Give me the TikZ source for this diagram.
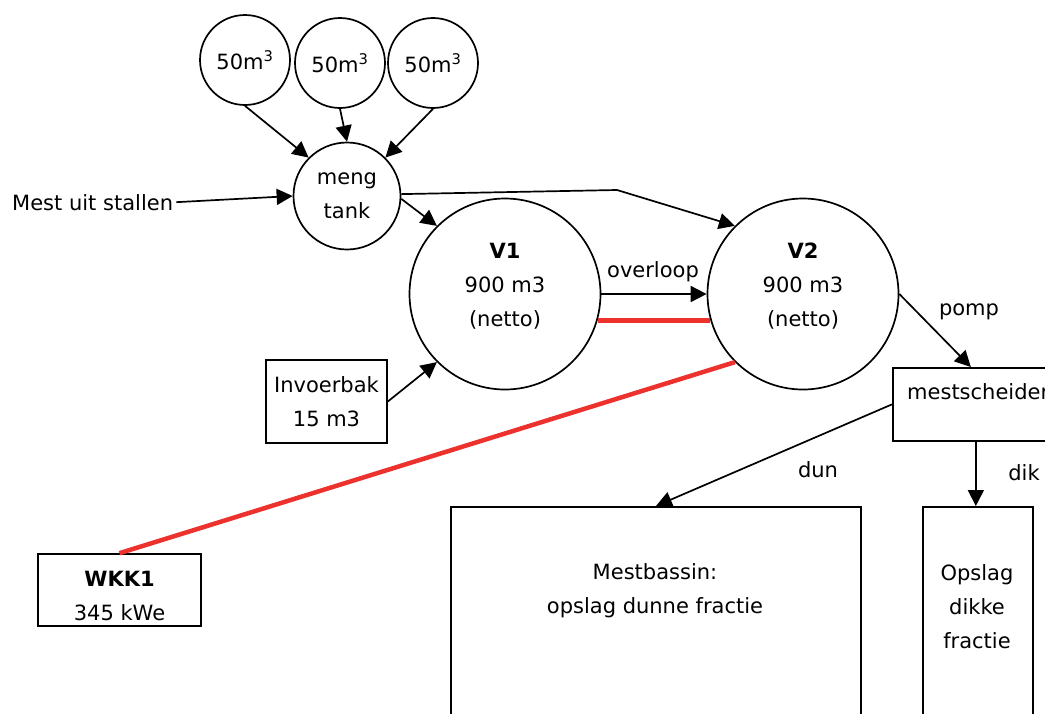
\documentclass[tikz,border=0pt]{standalone}
\usepackage{fontspec}
\setmainfont{DejaVu Sans}
\usepackage{tikz}
\usetikzlibrary{arrows.meta, calc, positioning}
\definecolor{gasred}{RGB}{237,50,46}
\tikzset{
    tankNode/.style={circle, draw, line width=1.7pt, inner sep=0pt, align=center},
    boxNode/.style={rectangle, draw, line width=1.7pt, inner sep=0pt, align=center},
    txtNode/.style={inner sep=0pt, align=center},
    flowEdge/.style={->, >={Triangle[length=16pt, width=16pt]}, line width=1.7pt},
    gasLine/.style={draw=gasred, line width=4.5pt},
}
\newcommand{\drawFlow}[3][]{
    \draw[flowEdge, #1] (#2) -- (#3);
}
\newcommand{\drawGas}[2]{
    \draw[gasLine] (#1) -- (#2);
}

\begin{document}
\begin{tikzpicture}[x=1pt, y=-1pt, font=\fontsize{21pt}{34pt}\selectfont]

    \useasboundingbox (0,0) rectangle (1045,713);
    \clip (0,0) rectangle (1045,713);

    % opslag en mengtank
    \node[tankNode, minimum size=90pt] (T1) at (245,60) {50m\textsuperscript{3}};
    \node[tankNode, minimum size=90pt] (T2) at (340,63) {50m\textsuperscript{3}};
    \node[tankNode, minimum size=90pt] (T3) at (433,63) {50m\textsuperscript{3}};
    \node[tankNode, minimum size=107pt] (meng) at (347,196) {meng\\tank};
    \node[txtNode, anchor=base west, inner xsep=3pt] (stal) at (9,210) {Mest uit stallen};

    % vergisters
    \node[tankNode, minimum size=191pt] (V1) at (505,294) {};
    \node[txtNode] (V1txt) at (505,286) {\textbf{V1}\\900 m3\\(netto)};
    \node[tankNode, minimum size=191pt] (V2) at (803,294) {};
    \node[txtNode] (V2txt) at (803,286) {\textbf{V2}\\900 m3\\(netto)};
    \coordinate (bend) at (617,190);

    \node[boxNode, minimum width=121pt, minimum height=83pt] (invoer) at (326.5,401.5) {Invoerbak\\15 m3};
    \node[boxNode, minimum width=163pt, minimum height=72pt] (wkk) at (119.5,590) {};
    \node[txtNode] (wkkTxt) at (119.5,595.5) {\textbf{WKK1}\\345 kWe};

    % scheiding en opslag
    \node[boxNode, minimum width=166pt, minimum height=73pt, anchor=north west] (sep) at (892,367) {};
    \node[txtNode, anchor=base west] (sepTxt) at (907,399) {mestscheider};
    \node[boxNode, minimum width=410pt, minimum height=260pt, anchor=north] (bassin) at (656,506) {};
    \node[txtNode] (bassinTxt) at (655,591) {Mestbassin:\\opslag dunne fractie};
    \node[boxNode, minimum width=110pt, minimum height=260pt, anchor=north] (dikOpslag) at (978,506) {};
    \node[txtNode] (dikTxt) at (977,607) {Opslag\\dikke\\fractie};

    % labels
    \node[txtNode, anchor=base] (ovlLbl) at (653,277) {overloop};
    \node[txtNode, anchor=base] (pompLbl) at (969,315) {pomp};
    \node[txtNode, anchor=base] (dunLbl) at (818,477) {dun};
    \node[txtNode, anchor=base] (dikLbl) at (1024,480) {dik};

    \drawFlow{T1.south}{meng.135}
    \drawFlow{T2.south}{meng.north}
    \drawFlow{T3.south}{meng.45}
    \drawFlow{stal.east}{meng.west}
    \drawFlow{meng.-3}{V1.135}
    \draw[flowEdge] (meng.2) -- (bend) -- (V2.135);
    \drawFlow{invoer.east}{V1.225}
    \drawFlow{V1.east}{V2.west}
    \drawFlow{V2.east}{$(sep.north)+(-5,0)$}
    \drawFlow{sep.west}{bassin.north}
    \drawFlow{sep.south}{sep.south |- dikOpslag.north}

    \drawGas{V1.-16.5}{V2.196.5}
    \drawGas{V2.225}{wkk.north}

\end{tikzpicture}
\end{document}
